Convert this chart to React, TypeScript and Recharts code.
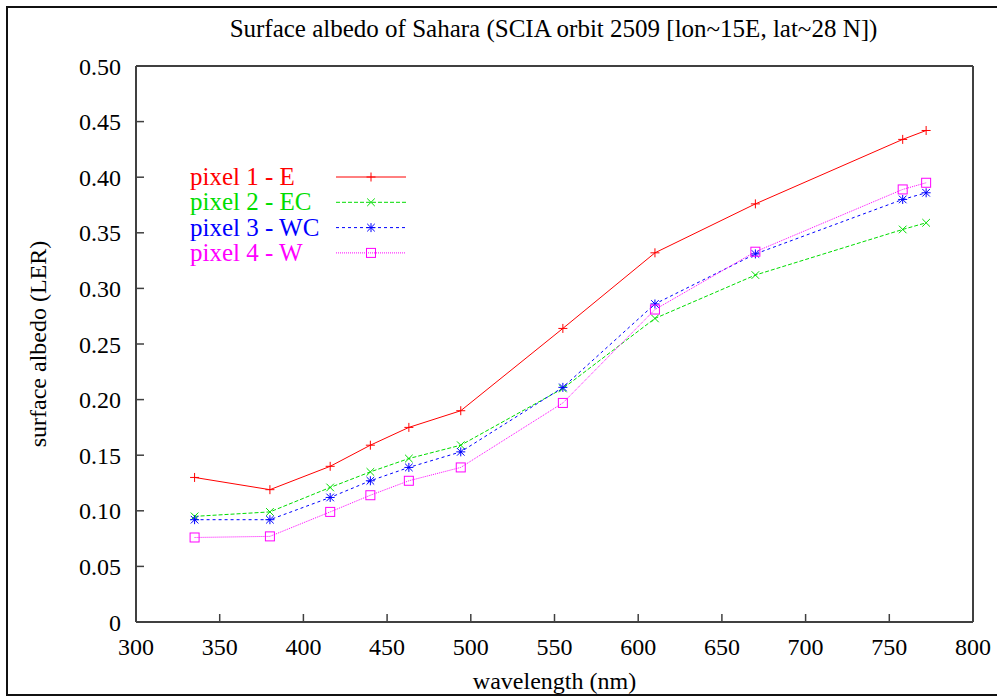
import React from 'react';
import { LineChart, Line, XAxis, YAxis, Legend, Label } from 'recharts';

const wavelengths = [335, 380, 416, 440, 463, 494, 555, 610, 670, 758, 772];
const pixel1E = [0.130, 0.119, 0.140, 0.159, 0.175, 0.190, 0.264, 0.332, 0.376, 0.434, 0.442];
const pixel2EC = [0.095, 0.099, 0.121, 0.135, 0.147, 0.159, 0.210, 0.273, 0.312, 0.353, 0.359];
const pixel3WC = [0.092, 0.092, 0.112, 0.127, 0.139, 0.153, 0.211, 0.286, 0.331, 0.380, 0.386];
const pixel4W = [0.076, 0.077, 0.099, 0.114, 0.127, 0.139, 0.197, 0.281, 0.333, 0.389, 0.395];

const xTicks = [300, 350, 400, 450, 500, 550, 600, 650, 700, 750, 800];
const yTicks = [0, 0.05, 0.1, 0.15, 0.2, 0.25, 0.3, 0.35, 0.4, 0.45, 0.5];

const titleText = 'Surface albedo of Sahara (SCIA orbit 2509 [lon~15E, lat~28 N])';
const xLabelText = 'wavelength (nm)';
const yLabelText = 'surface albedo (LER)';

const data = wavelengths.map((w, i) => ({
  w,
  p1: pixel1E[i],
  p2: pixel2EC[i],
  p3: pixel3WC[i],
  p4: pixel4W[i],
}));

type MarkerKind = 'plus' | 'cross' | 'star' | 'square';

const series: { key: string; name: string; color: string; dash?: string; marker: MarkerKind }[] = [
  { key: 'p1', name: 'pixel 1 - E', color: '#ff0000', marker: 'plus' },
  { key: 'p2', name: 'pixel 2 - EC', color: '#00dd00', dash: '4 2', marker: 'cross' },
  { key: 'p3', name: 'pixel 3 - WC', color: '#0000ff', dash: '3 3', marker: 'star' },
  { key: 'p4', name: 'pixel 4 - W', color: '#ff00ff', dash: '1 1', marker: 'square' },
];

const FONT = '"Liberation Serif", "Times New Roman", serif';
const AXIS = '#404040';

function Marker({ cx, cy, kind, color }: { cx: number; cy: number; kind: MarkerKind; color: string }) {
  if (cx == null || cy == null || isNaN(cx) || isNaN(cy)) return <g />;
  const s = 4.5;
  const d = 3.8;
  const plus = (
    <>
      <line x1={cx - s} y1={cy} x2={cx + s} y2={cy} stroke={color} strokeWidth={1} />
      <line x1={cx} y1={cy - s} x2={cx} y2={cy + s} stroke={color} strokeWidth={1} />
    </>
  );
  const cross = (
    <>
      <line x1={cx - d} y1={cy - d} x2={cx + d} y2={cy + d} stroke={color} strokeWidth={1} />
      <line x1={cx - d} y1={cy + d} x2={cx + d} y2={cy - d} stroke={color} strokeWidth={1} />
    </>
  );
  if (kind === 'plus') return <g>{plus}</g>;
  if (kind === 'cross') return <g>{cross}</g>;
  if (kind === 'star') return <g>{plus}{cross}</g>;
  return <rect x={cx - 4.5} y={cy - 4.5} width={9} height={9} fill="none" stroke={color} strokeWidth={1} />;
}

function LegendBox() {
  const rowH = 25.3;
  return (
    <svg width={260} height={110} style={{ display: 'block', overflow: 'visible' }}>
      {series.map((s, i) => {
        const y = 17 + i * rowH;
        return (
          <g key={s.key}>
            <text x={30} y={y + 8} fill={s.color} fontFamily={FONT} fontSize={25}>
              {s.name}
            </text>
            <line x1={176} y1={y} x2={246} y2={y} stroke={s.color} strokeWidth={1} strokeDasharray={s.dash} />
            <Marker cx={211} cy={y} kind={s.marker} color={s.color} />
          </g>
        );
      })}
    </svg>
  );
}

const yFmt = (v: number) => (v === 0 ? '0' : v.toFixed(2));

export default function App() {
  return (
    <div style={{ position: 'absolute', left: 0, top: 0, width: 997, height: 696, background: '#fff' }}>
      <div
        style={{
          position: 'absolute',
          left: 6,
          top: 6,
          width: 991,
          height: 690,
          boxSizing: 'border-box',
          borderLeft: '2px solid #111',
          borderTop: '2px solid #111',
          borderBottom: '2px solid #111',
        }}
      />
      <LineChart
        width={997}
        height={696}
        data={data}
        margin={{ top: 65, right: 23, bottom: 0, left: 0 }}
        style={{ position: 'absolute', left: 0, top: 0 }}
      >
        <XAxis
          xAxisId="b"
          dataKey="w"
          type="number"
          domain={[300, 800]}
          ticks={xTicks}
          height={74}
          stroke={AXIS}
          strokeWidth={2}
          tickSize={-8}
          tickMargin={24}
          tick={{ fill: '#000', fontFamily: FONT, fontSize: 24 }}
          tickLine={{ stroke: AXIS, strokeWidth: 1.5 }}
          interval={0}
        >
          <Label
            content={({ viewBox }: any) => (
              <text
                x={viewBox.x + viewBox.width / 2}
                y={viewBox.y + 67}
                textAnchor="middle"
                fontFamily={FONT}
                fontSize={24}
                fill="#000"
              >
                {xLabelText}
              </text>
            )}
          />
        </XAxis>
        <XAxis
          xAxisId="t"
          orientation="top"
          dataKey="w"
          type="number"
          domain={[300, 800]}
          ticks={xTicks}
          height={1}
          stroke={AXIS}
          strokeWidth={2}
          tickSize={-8}
          tick={false}
          tickLine={{ stroke: AXIS, strokeWidth: 1.5 }}
          interval={0}
        >
          <Label
            content={({ viewBox }: any) => (
              <text
                x={viewBox.x + viewBox.width / 2 - 1}
                y={viewBox.y - 28}
                textAnchor="middle"
                fontFamily={FONT}
                fontSize={25}
                fill="#000"
              >
                {titleText}
              </text>
            )}
          />
        </XAxis>
        <YAxis
          yAxisId="l"
          type="number"
          domain={[0, 0.5]}
          ticks={yTicks}
          width={136}
          stroke={AXIS}
          strokeWidth={2}
          tickSize={-8}
          tickMargin={23}
          tickFormatter={yFmt}
          tick={{ fill: '#000', fontFamily: FONT, fontSize: 24 }}
          tickLine={{ stroke: AXIS, strokeWidth: 1.5 }}
          interval={0}
        >
          <Label
            content={({ viewBox }: any) => {
              const cx = viewBox.x + 38;
              const cy = viewBox.y + viewBox.height / 2;
              return (
                <text
                  x={cx}
                  y={cy}
                  transform={`rotate(-90 ${cx} ${cy})`}
                  textAnchor="middle"
                  dominantBaseline="central"
                  fontFamily={FONT}
                  fontSize={24}
                  fill="#000"
                >
                  {yLabelText}
                </text>
              );
            }}
          />
        </YAxis>
        <YAxis
          yAxisId="r"
          orientation="right"
          type="number"
          domain={[0, 0.5]}
          ticks={yTicks}
          width={1}
          stroke={AXIS}
          strokeWidth={2}
          tickSize={-8}
          tick={false}
          tickLine={{ stroke: AXIS, strokeWidth: 1.5 }}
          interval={0}
        />
        <Legend
          layout="vertical"
          align="center"
          verticalAlign="middle"
          wrapperStyle={{ left: 160, top: 160, width: 260, height: 110 }}
          content={() => <LegendBox />}
        />
        {series.map((s) => (
          <Line
            key={s.key}
            xAxisId="b"
            yAxisId="l"
            dataKey={s.key}
            name={s.name}
            type="linear"
            stroke={s.color}
            strokeWidth={1}
            strokeDasharray={s.dash}
            isAnimationActive={false}
            dot={(p: any) => <Marker key={`${s.key}-${p.index}`} cx={p.cx} cy={p.cy} kind={s.marker} color={s.color} />}
            activeDot={false}
          />
        ))}
      </LineChart>
    </div>
  );
}
